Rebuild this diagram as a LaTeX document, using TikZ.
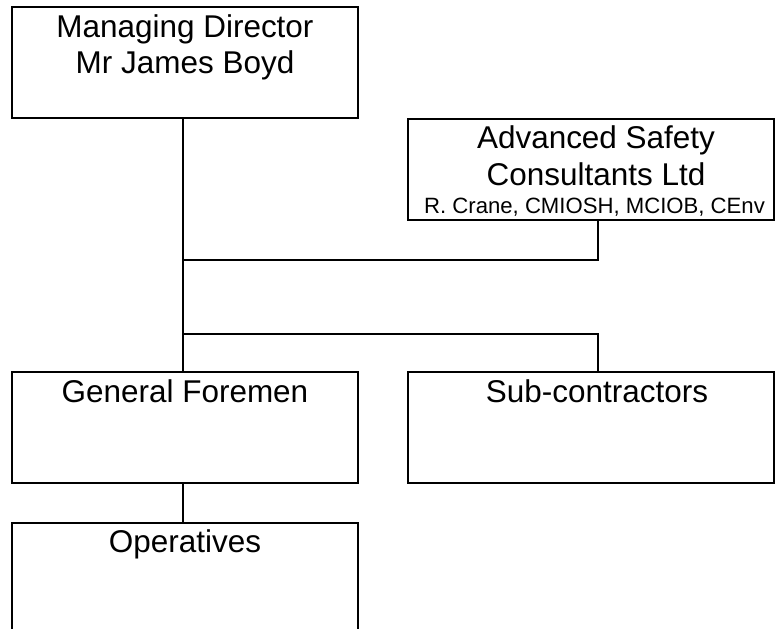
\documentclass[tikz,border=0pt]{standalone}
\usepackage{fontspec}
\setmainfont{Liberation Sans}
\begin{document}
\begin{tikzpicture}[x=0.75pt,y=-0.75pt,
  box/.style={draw=black, line width=1.5pt, rectangle, inner sep=0pt, outer sep=0pt, fill=white},
  lbox/.style={box, minimum width=259.5pt, minimum height=83.25pt},
  rbox/.style={box, minimum width=274.5pt, minimum height=83.25pt},
  big/.style={anchor=base, inner sep=0pt, font=\fontsize{23.6}{28}\selectfont},
  small/.style={anchor=base, inner sep=0pt, font=\fontsize{16.6}{20}\selectfont},
  conn/.style={draw=black, line width=1.5pt}]
\useasboundingbox (0,0) rectangle (776,629);
\begin{scope}
\clip (0,0) rectangle (776,629);
% boxes
\node[lbox] (md) at (185,62.5) {};
\node[rbox, minimum height=75.75pt] (asc) at (591,169.5) {};
\node[lbox] (gf) at (185,427.5) {};
\node[rbox] (sub) at (591,427.5) {};
\node[lbox] (op) at (185,578.5) {};
% texts
\node[big] (mdt1) at (185,37) {Managing Director};
\node[big] (mdt2) at (185,73) {Mr James Boyd};
\node[big] (asct1) at (596,148) {Advanced Safety};
\node[big] (asct2) at (596,185) {Consultants Ltd};
\node[small] (asct3) at (594.5,213) {R. Crane, CMIOSH, MCIOB, CEnv};
\node[big] (gft) at (185,402) {General Foremen};
\node[big] (subt) at (597,402) {Sub-contractors};
\node[big] (opt) at (185,552) {Operatives};
% junctions
\coordinate (j1) at (183,260);
\coordinate (j2) at (183,334);
\coordinate (k1) at (598,260);
\coordinate (k2) at (598,334);
% connectors
\draw[conn] (md.south -| j1) -- (gf.north -| j1);
\draw[conn] (asc.south -| k1) -- (k1) -- (j1);
\draw[conn] (j2) -- (k2) -- (sub.north -| k2);
\draw[conn] (gf.south -| j1) -- (op.north -| j1);
\end{scope}
\end{tikzpicture}
\end{document}
